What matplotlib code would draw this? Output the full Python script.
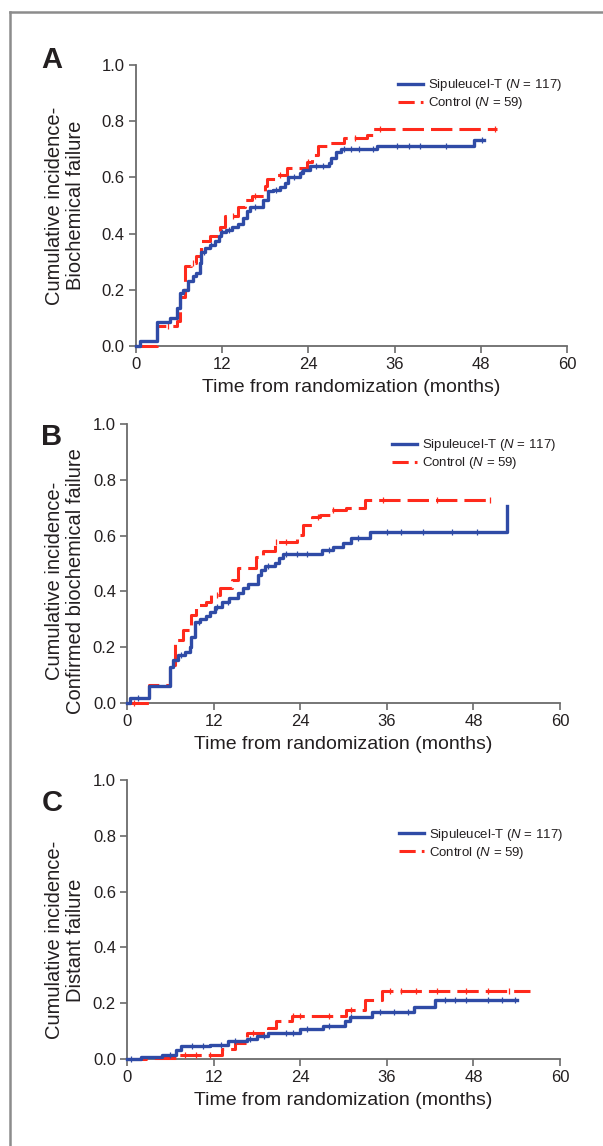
"""
Cumulative incidence curves, sipuleucel-T vs control (panels A-C).
"""

import numpy as np
import matplotlib.pyplot as plt
from matplotlib.lines import Line2D

plt.rcParams['font.family'] = ['Liberation Sans', 'DejaVu Sans']
plt.rcParams['mathtext.fontset'] = 'custom'
plt.rcParams['mathtext.rm'] = 'Liberation Sans'
plt.rcParams['mathtext.it'] = 'Liberation Sans:italic'

# ---- data ----
# panel A: biochemical failure
a_sip_t = [0, 0.56, 2.9, 4.7, 5.7, 6.1, 6.6, 7.3, 8.0, 8.4, 8.9, 9.1, 9.6, 10.3, 11.0, 11.5,
           11.9, 12.6, 13.3, 14.2, 14.9, 15.4, 15.9, 17.7, 18.4, 19.1, 20.0, 20.7, 21.2,
           22.8, 23.3, 24.2, 26.8, 27.2, 27.9, 28.6, 33.5, 47.0]
a_sip_y = [0, 0.018, 0.087, 0.099, 0.134, 0.19, 0.20, 0.23, 0.25, 0.26, 0.295, 0.336, 0.348,
           0.36, 0.372, 0.39, 0.404, 0.413, 0.425, 0.435, 0.455, 0.479, 0.496, 0.52, 0.55,
           0.556, 0.564, 0.58, 0.603, 0.615, 0.627, 0.639, 0.651, 0.669, 0.689, 0.701, 0.710,
           0.734]
a_sip_end = 48.4
a_sip_cens = [9.5, 10.5, 12.0, 13.0, 16.5, 19.5, 22.0, 23.0, 25.0, 26.0, 29.0, 30.0, 31.0,
              33.0, 36.3, 38.0, 39.5, 43.2, 48.2]

a_ctl_t = [0, 2.9, 5.7, 6.1, 6.8, 7.7, 8.4, 9.1, 10.3, 11.7, 12.4, 14.2, 15.2, 16.1, 17.9,
           18.2, 19.6, 21.0, 23.8, 24.5, 25.4, 27.0, 28.9, 32.1, 33.0]
a_ctl_y = [0, 0.07, 0.09, 0.176, 0.283, 0.295, 0.32, 0.372, 0.39, 0.425, 0.463, 0.496, 0.52,
           0.535, 0.568, 0.594, 0.609, 0.633, 0.654, 0.681, 0.713, 0.722, 0.74, 0.752, 0.772]
a_ctl_end = 50.2
a_ctl_cens = [4.5, 8.0, 13.5, 16.5, 20.0, 24.0, 30.5, 34.0, 50.0]

# panel B: confirmed biochemical failure
b_sip_t = [0, 0.4, 3.0, 5.9, 6.4, 7.1, 8.0, 8.7, 8.9, 9.4, 10.1, 11.0, 11.5, 12.2, 13.1, 14.2,
           15.4, 16.1, 16.8, 18.2, 18.6, 19.1, 20.5, 21.0, 21.6, 27.0, 28.6, 30.0, 31.1, 33.7,
           52.6]
b_sip_y = [0, 0.016, 0.06, 0.13, 0.153, 0.171, 0.183, 0.20, 0.237, 0.29, 0.30, 0.311, 0.327,
           0.345, 0.363, 0.375, 0.393, 0.411, 0.426, 0.459, 0.477, 0.491, 0.50, 0.519, 0.534,
           0.548, 0.56, 0.575, 0.59, 0.614, 0.707]
b_sip_end = 52.6
b_sip_cens = [1.5, 7.5, 10.0, 12.5, 14.0, 19.5, 22.0, 23.5, 25.0, 28.0, 32.0, 36.0, 38.0,
              41.0, 45.0, 48.5]

b_ctl_t = [0, 3.1, 5.9, 6.6, 7.8, 8.9, 9.6, 11.0, 11.7, 12.9, 14.5, 15.4, 17.9, 18.9, 20.5,
           23.5, 24.4, 25.6, 26.7, 28.1, 30.4, 33.0]
b_ctl_y = [0, 0.063, 0.135, 0.225, 0.261, 0.315, 0.351, 0.363, 0.387, 0.411, 0.441, 0.483,
           0.525, 0.543, 0.578, 0.602, 0.638, 0.668, 0.674, 0.692, 0.698, 0.728]
b_ctl_end = 50.5
b_ctl_cens = [1.0, 12.5, 20.7, 22.0, 26.5, 28.5, 35.5, 43.0, 50.3]

# panel C: distant failure
c_sip_t = [0, 2.0, 4.8, 6.8, 7.5, 11.5, 14.0, 16.6, 18.0, 19.6, 24.0, 27.2, 30.2, 30.9, 33.9,
           39.7, 42.7]
c_sip_y = [0, 0.007, 0.014, 0.033, 0.045, 0.051, 0.063, 0.071, 0.081, 0.093, 0.107, 0.119,
           0.135, 0.15, 0.167, 0.186, 0.21]
c_sip_end = 54.0
c_sip_cens = [0.5, 6.0, 9.0, 10.5, 13.0, 15.0, 17.0, 19.0, 22.0, 23.0, 25.0, 28.0, 31.0,
              35.0, 37.0, 39.0, 44.0, 45.5, 47.0, 50.0, 52.0, 53.8]

c_ctl_t = [0, 2.7, 6.8, 13.1, 14.9, 16.6, 19.6, 20.7, 22.8, 30.4, 33.0, 35.3]
c_ctl_y = [0, 0.005, 0.014, 0.036, 0.057, 0.093, 0.11, 0.135, 0.155, 0.176, 0.212, 0.242]
c_ctl_end = 55.8
c_ctl_cens = [8.0, 9.5, 11.5, 17.5, 23.0, 24.0, 28.0, 31.0, 36.5, 38.0, 40.0, 43.0, 47.0,
              50.0, 53.0]

panel_letters = ['A', 'B', 'C']
ylabels = ['Cumulative incidence-\nBiochemical failure',
           'Cumulative incidence-\nConfirmed biochemical failure',
           'Cumulative incidence-\nDistant failure']
xlabel = 'Time from randomization (months)'
sip_label = 'Sipuleucel-T ($\\mathit{N}$ = 117)'
ctl_label = 'Control ($\\mathit{N}$ = 59)'
xticks = [0, 12, 24, 36, 48, 60]
yticks = [0.0, 0.2, 0.4, 0.6, 0.8, 1.0]

blue = '#2f4ba6'
red = '#ff2a1c'
axcol = '#6b6b6b'
txtcol = '#231f20'

panels = [
    (a_sip_t, a_sip_y, a_sip_end, a_sip_cens, a_ctl_t, a_ctl_y, a_ctl_end, a_ctl_cens),
    (b_sip_t, b_sip_y, b_sip_end, b_sip_cens, b_ctl_t, b_ctl_y, b_ctl_end, b_ctl_cens),
    (c_sip_t, c_sip_y, c_sip_end, c_sip_cens, c_ctl_t, c_ctl_y, c_ctl_end, c_ctl_cens),
]

# axes boxes (figure fraction), legend anchors and y-label spots (axes fraction)
boxes = [[0.2255, 0.6981, 0.7148, 0.2452],
         [0.2106, 0.3866, 0.7181, 0.2434],
         [0.2106, 0.0759, 0.7181, 0.2435]]
leg_pos = [(0.608, 0.895), (0.612, 0.892), (0.628, 0.771)]
ylab_pos = [(-0.118, 0.5), (-0.097, 0.437), (-0.097, 0.427)]
letter_y = [0.948, 0.619, 0.299]


def step_at(t, y, tq):
    idx = np.searchsorted(np.asarray(t), tq, side='right') - 1
    return np.asarray(y)[idx]


def draw_curve(ax, t, y, t_end, cens, color, lw, dashes=None):
    tt = list(t) + [t_end]
    yy = list(y) + [y[-1]]
    line, = ax.step(tt, yy, where='post', color=color, lw=lw, clip_on=False, zorder=3)
    if dashes is not None:
        line.set_dashes(dashes)
    cy = step_at(t, y, np.asarray(cens))
    ax.plot(cens, cy, ls='none', marker='|', ms=4, mew=0.9, color=color,
            clip_on=False, zorder=3)


plt.close('all')
fig = plt.figure(figsize=(6.03, 11.46), dpi=100)

# grey frame (top and left edges)
fig.add_artist(Line2D([0.0166, 1.0], [0.9895, 0.9895], color='#8c8c8c', lw=1.8,
                      transform=fig.transFigure))
fig.add_artist(Line2D([0.0166, 0.0166], [0.0, 0.9895], color='#8c8c8c', lw=1.8,
                      transform=fig.transFigure))

for i, p in enumerate(panels):
    ax = fig.add_axes(boxes[i])
    st, sy, se, sc, ct, cy, ce, cc = p
    draw_curve(ax, ct, cy, ce, cc, red, 2.2, dashes=(7, 2.3))
    draw_curve(ax, st, sy, se, sc, blue, 2.4)

    ax.set_xlim(0, 60)
    ax.set_ylim(0, 1.0)
    ax.set_xticks(xticks)
    ax.set_yticks(yticks)
    ax.set_yticklabels(['%.1f' % v for v in yticks])
    for s in ['top', 'right']:
        ax.spines[s].set_visible(False)
    for s in ['left', 'bottom']:
        ax.spines[s].set_color(axcol)
        ax.spines[s].set_linewidth(1.3)
    ax.tick_params(direction='out', length=5, width=1.2, color=axcol,
                   labelsize=12, labelcolor=txtcol, pad=3)
    ax.set_xlabel(xlabel, fontsize=14, color=txtcol, labelpad=5)
    ax.set_ylabel(ylabels[i], fontsize=14.5, color=txtcol, linespacing=1.15)
    ax.yaxis.set_label_coords(*ylab_pos[i])

    handles = [Line2D([], [], color=blue, lw=2.4),
               Line2D([], [], color=red, lw=2.2, dashes=(5.3, 2.0, 1.0, 5.0))]
    ax.legend(handles, [sip_label, ctl_label], loc='center left',
              bbox_to_anchor=leg_pos[i], frameon=False, fontsize=9.5,
              borderpad=0, borderaxespad=0, handlelength=1.9, handletextpad=0.4,
              labelspacing=0.15, labelcolor=txtcol)

    fig.text(0.086, letter_y[i], panel_letters[i], fontsize=21, fontweight='bold',
             color=txtcol, ha='center', va='center')

plt.savefig('out.png', dpi=100)
